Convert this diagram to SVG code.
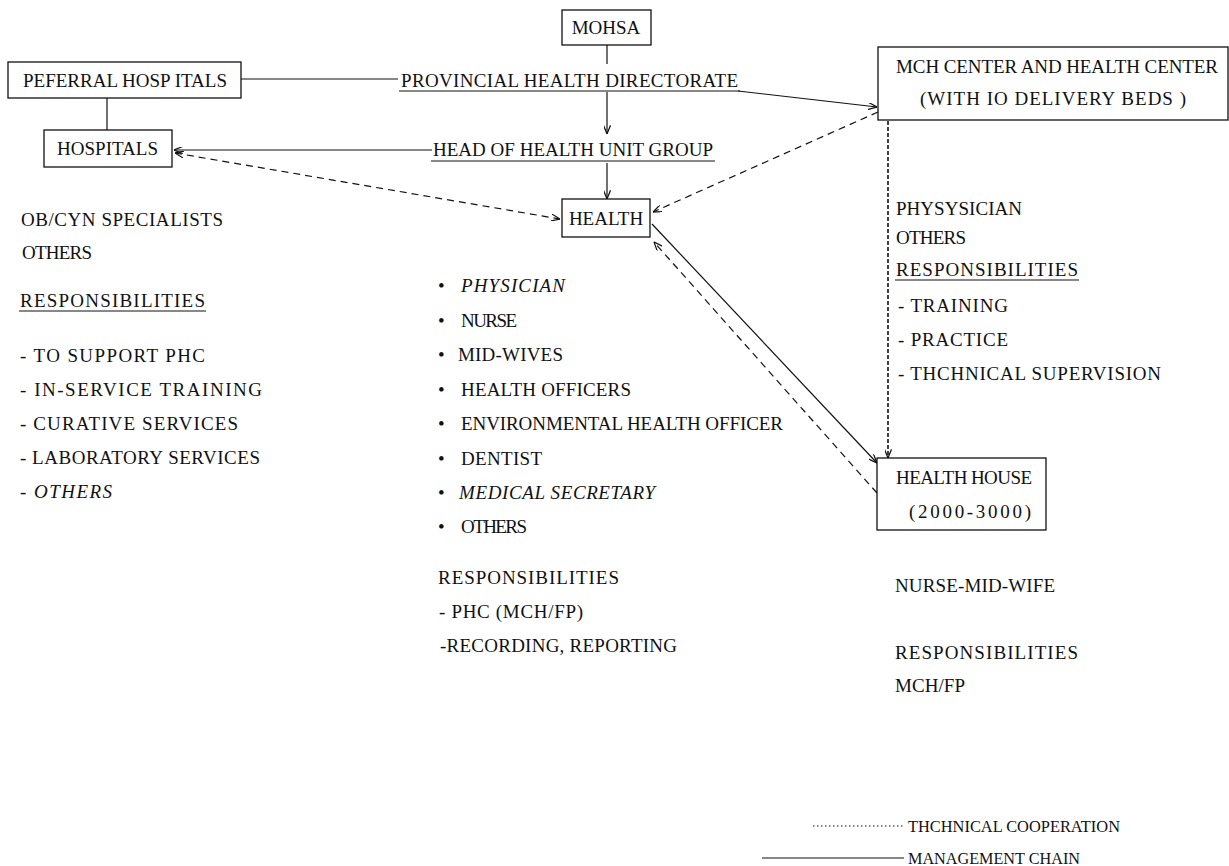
<svg xmlns="http://www.w3.org/2000/svg" width="1229" height="866" viewBox="0 0 1229 866">
<style>
text{font-family:"Liberation Serif","DejaVu Serif",serif;font-size:19px;fill:#111}
.it{font-style:italic}
.lg{font-size:17px}
.box{fill:#fff;stroke:#111;stroke-width:1.3}
.solid{fill:none;stroke:#111;stroke-width:1.2}
.dash{fill:none;stroke:#111;stroke-width:1.2;stroke-dasharray:7 5}
.vdash{fill:none;stroke:#111;stroke-width:1.6;stroke-dasharray:4 2}
.ul{stroke:#111;stroke-width:1}
</style>
<defs>
<marker id="ah" viewBox="0 0 10 8" refX="10" refY="4" markerWidth="9" markerHeight="7" markerUnits="userSpaceOnUse" orient="auto-start-reverse">
<path d="M0,0 L10,4 L0,8" fill="none" stroke="#111" stroke-width="1.4"/>
</marker>
</defs>
<rect width="1229" height="866" fill="#fff"/>

<g id="connectors">
<line class="solid" x1="607" y1="45" x2="607" y2="64"/>
<line class="solid" x1="241" y1="79" x2="398" y2="79"/>
<line class="solid" x1="107" y1="98" x2="107" y2="130"/>
<line class="solid" x1="607" y1="92" x2="607" y2="134" marker-end="url(#ah)"/>
<line class="solid" x1="607" y1="163" x2="607" y2="199" marker-end="url(#ah)"/>
<line class="solid" x1="432" y1="150" x2="174" y2="150" marker-end="url(#ah)"/>
<line class="solid" x1="738" y1="91" x2="877" y2="107" marker-end="url(#ah)"/>
<line class="dash" x1="175" y1="153" x2="560" y2="219" marker-start="url(#ah)" marker-end="url(#ah)"/>
<line class="dash" x1="878" y1="112" x2="653" y2="212" marker-end="url(#ah)"/>
<line class="solid" x1="652" y1="224" x2="877" y2="463" marker-end="url(#ah)"/>
<line class="dash" x1="877" y1="493" x2="654" y2="242" marker-end="url(#ah)"/>
<line class="vdash" x1="888" y1="121" x2="888" y2="458" marker-end="url(#ah)"/>
</g>

<g id="mohsa">
<rect class="box" x="562" y="10" width="89" height="35"/>
<text x="606" y="34" text-anchor="middle">MOHSA</text>
</g>

<g id="provincial">
<text x="401" y="87" textLength="337">PROVINCIAL HEALTH DIRECTORATE</text>
<line class="ul" x1="399" y1="91" x2="740" y2="91"/>
</g>

<g id="referral">
<rect class="box" x="8" y="62" width="233" height="36"/>
<text x="23" y="87" textLength="204">PEFERRAL HOSP ITALS</text>
</g>

<g id="hospitals">
<rect class="box" x="44" y="130" width="128" height="37"/>
<text x="57" y="155" textLength="101">HOSPITALS</text>
</g>

<g id="headgroup">
<text x="433" y="156" textLength="280">HEAD OF HEALTH UNIT GROUP</text>
<line class="ul" x1="431" y1="161" x2="715" y2="161"/>
</g>

<g id="health">
<rect class="box" x="562" y="199" width="88" height="38"/>
<text x="606" y="225" text-anchor="middle">HEALTH</text>
</g>

<g id="mch">
<rect class="box" x="878" y="47" width="350" height="73"/>
<text x="896" y="73" textLength="322">MCH CENTER AND HEALTH CENTER</text>
<text x="920" y="105" textLength="266">(WITH IO DELIVERY BEDS )</text>
</g>

<g id="healthhouse">
<rect class="box" x="877" y="458" width="169" height="72"/>
<text x="896" y="484" textLength="136">HEALTH HOUSE</text>
<text x="909" y="518" textLength="122">(2000-3000)</text>
</g>

<g id="hospital-text">
<text x="21" y="226" textLength="202">OB/CYN SPECIALISTS</text>
<text x="22" y="259" textLength="70">OTHERS</text>
<text x="20" y="307" textLength="185">RESPONSIBILITIES</text>
<line class="ul" x1="19" y1="311" x2="206" y2="311"/>
<text x="20" y="362" textLength="185">- TO SUPPORT PHC</text>
<text x="20" y="396" textLength="242">- IN-SERVICE TRAINING</text>
<text x="20" y="430" textLength="218">- CURATIVE SERVICES</text>
<text x="20" y="464" textLength="240">- LABORATORY SERVICES</text>
<text x="20" y="498" class="it" textLength="92">- OTHERS</text>
</g>

<g id="health-text">
<text y="292"><tspan x="438">•</tspan><tspan x="461" class="it" textLength="104">PHYSICIAN</tspan></text>
<text y="327"><tspan x="438">•</tspan><tspan x="461" textLength="56">NURSE</tspan></text>
<text y="361"><tspan x="438">•</tspan><tspan x="458" textLength="105">MID-WIVES</tspan></text>
<text y="396"><tspan x="438">•</tspan><tspan x="461" textLength="170">HEALTH OFFICERS</tspan></text>
<text y="430"><tspan x="438">•</tspan><tspan x="461" textLength="322">ENVIRONMENTAL HEALTH OFFICER</tspan></text>
<text y="465"><tspan x="438">•</tspan><tspan x="461" textLength="81">DENTIST</tspan></text>
<text y="499"><tspan x="438">•</tspan><tspan x="459" class="it" textLength="196">MEDICAL SECRETARY</tspan></text>
<text y="533"><tspan x="438">•</tspan><tspan x="461" textLength="66">OTHERS</tspan></text>
<text x="438" y="584" textLength="181">RESPONSIBILITIES</text>
<text x="439" y="618" textLength="144">- PHC (MCH/FP)</text>
<text x="440" y="652" textLength="237">-RECORDING, REPORTING</text>
</g>

<g id="mch-text">
<text x="896" y="215" textLength="126">PHYSYSICIAN</text>
<text x="896" y="244" textLength="70">OTHERS</text>
<text x="896" y="276" textLength="182">RESPONSIBILITIES</text>
<line class="ul" x1="895" y1="280" x2="1079" y2="280"/>
<text x="898" y="312" textLength="110">- TRAINING</text>
<text x="898" y="346" textLength="110">- PRACTICE</text>
<text x="898" y="380" textLength="263">- THCHNICAL SUPERVISION</text>
</g>

<g id="healthhouse-text">
<text x="895" y="592" textLength="160">NURSE-MID-WIFE</text>
<text x="895" y="659" textLength="183">RESPONSIBILITIES</text>
<text x="895" y="692" textLength="70">MCH/FP</text>
</g>

<g id="legend">
<line x1="813" y1="826" x2="903" y2="826" stroke="#111" stroke-width="1.2" stroke-dasharray="1.5 2.5"/>
<text class="lg" x="908" y="832" textLength="212" lengthAdjust="spacingAndGlyphs">THCHNICAL COOPERATION</text>
<line x1="762" y1="858" x2="904" y2="858" stroke="#111" stroke-width="1.2"/>
<text class="lg" x="908" y="864" textLength="172" lengthAdjust="spacingAndGlyphs">MANAGEMENT CHAIN</text>
</g>
</svg>
